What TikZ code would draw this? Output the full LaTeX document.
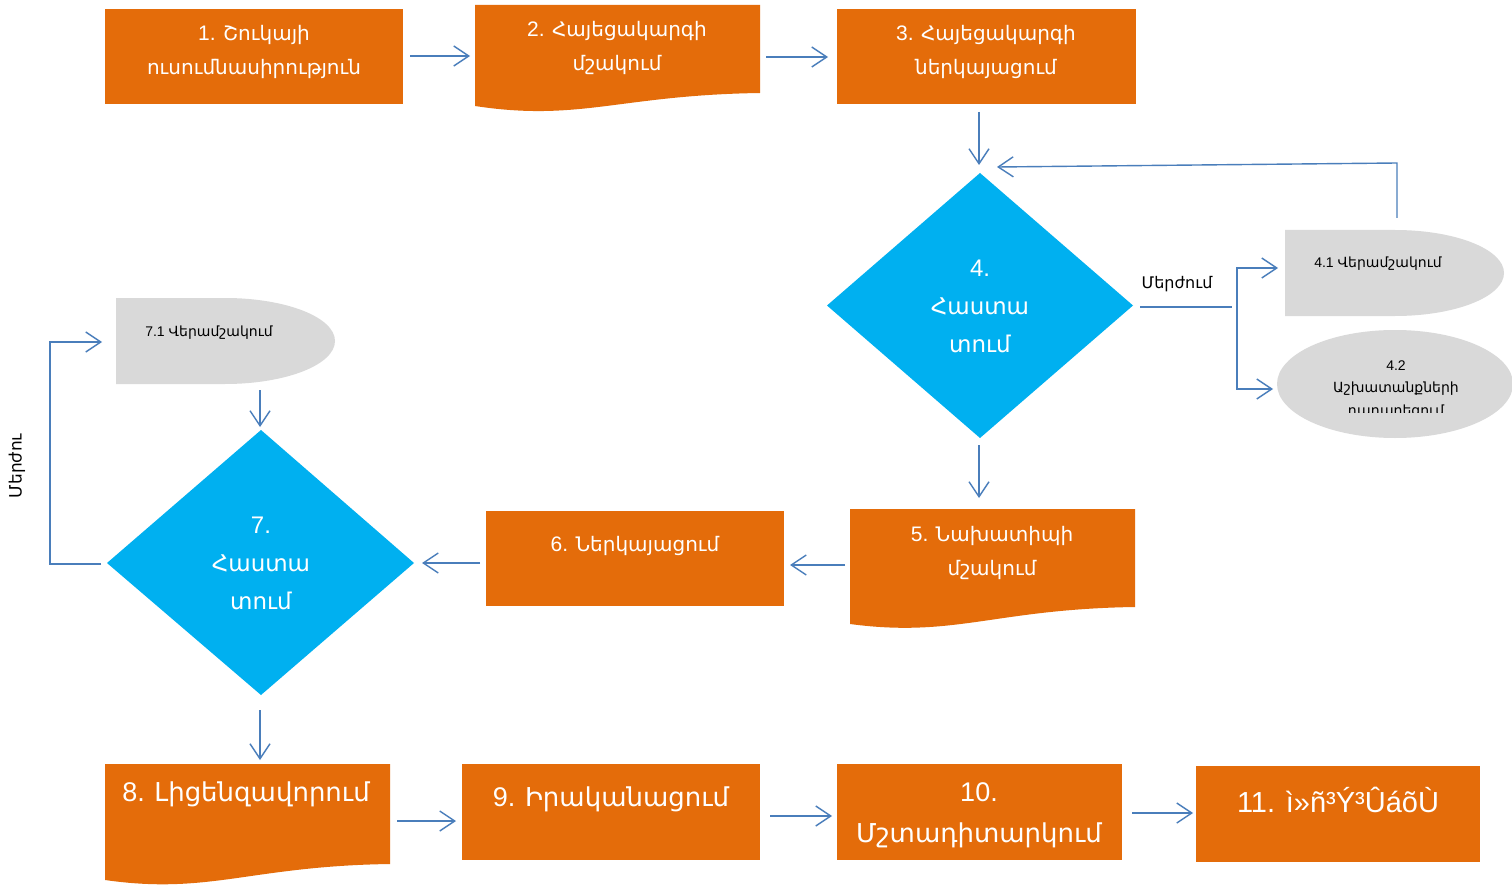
\documentclass[tikz,border=0pt]{standalone}
\usepackage{fontspec}
\setmainfont{Liberation Sans}
\newfontfamily\arm{DejaVu Sans}
\usetikzlibrary{arrows.meta}
\definecolor{orng}{HTML}{E46C0A}
\definecolor{cyn}{HTML}{00B0F0}
\definecolor{gry}{HTML}{D9D9D9}
\definecolor{arrc}{HTML}{4A7EBB}
\newcommand\myfs[2]{\fontsize{#1}{#2}\selectfont}
\begin{document}
\begin{tikzpicture}[x=1pt,y=-1pt,
  obox/.style={fill=orng, draw=none, inner sep=0},
  wt/.style={text=white, align=center, inner sep=0},
  bt/.style={text=black, align=center, inner sep=0},
  arr/.style={draw=arrc, line width=1.4pt, -{Straight Barb[length=15pt,width=20pt,line width=1.4pt]}},
  ln/.style={draw=arrc, line width=1.4pt}]
\useasboundingbox (0,0) rectangle (1512,885);
\fill[white] (0,0) rectangle (1512,885);

% ---------- shapes ----------
\node[obox, minimum width=298, minimum height=95] (n1) at (254,56.5) {};
\fill[orng] (475,5) -- (760,5) -- (760,93) .. controls (620,95) and (580,122) .. (475,106) -- cycle;
\coordinate (n2) at (617,50);
\node[obox, minimum width=299, minimum height=95] (n3) at (986.5,56.5) {};
\fill[cyn] (827,305.5) -- (980,173) -- (1133,305.5) -- (980,438) -- cycle;
\coordinate (n4) at (980,305.5);
\fill[gry] (1285,230) -- (1395,230) arc[start angle=-90, end angle=90, x radius=109, y radius=43] -- (1285,316) -- cycle;
\coordinate (n41) at (1380,273);
\fill[gry] (1395,384) ellipse [x radius=118, y radius=54];
\coordinate (n42) at (1395,384);
\fill[orng] (850,509) -- (1135,509) -- (1135,607) .. controls (995,609) and (955,638) .. (850,624) -- cycle;
\coordinate (n5) at (992,560);
\node[obox, minimum width=298, minimum height=95] (n6) at (635,558.5) {};
\fill[cyn] (107,563) -- (261,430) -- (414,563) -- (261,695) -- cycle;
\coordinate (n7) at (261,563);
\fill[gry] (116,298) -- (225,298) arc[start angle=-90, end angle=90, x radius=110, y radius=43] -- (116,384) -- cycle;
\coordinate (n71) at (215,341);
\fill[orng] (105,764) -- (390,764) -- (390,864) .. controls (250,866) and (210,895) .. (105,880) -- cycle;
\coordinate (n8) at (247,815);
\node[obox, minimum width=298, minimum height=96] (n9) at (611,812) {};
\node[obox, minimum width=285, minimum height=96] (n10) at (979.5,812) {};
\node[obox, minimum width=284, minimum height=96] (n11) at (1338,814) {};

% ---------- texts ----------
\node[wt, font=\myfs{20}{34}] (t1) at (254,52) {{\myfs{21}{34}1.} {\arm Շուկայի}\\{\arm ուսումնասիրություն}};
\node[wt, font=\myfs{20}{34}] (t2) at (617,48) {{\myfs{21}{34}2.} {\arm Հայեցակարգի}\\{\arm մշակում}};
\node[wt, font=\myfs{20}{34}] (t3) at (986,52) {{\myfs{21}{34}3.} {\arm Հայեցակարգի}\\{\arm ներկայացում}};
\node[wt, font=\myfs{23}{38}] (t4) at (980,306) {{\myfs{24}{38}4.}\\{\arm Հաստա}\\{\arm տում}};
\node[bt, font=\myfs{16}{20}] (lr4) at (1177,284) {\arm Մերժում};
\node[bt, font=\myfs{14}{20}] (t41) at (1378,264) {4.1 {\arm Վերամշակում}};
\node[bt, font=\myfs{14}{20}] (t42a) at (1396,366) {4.2};
\node[bt, font=\myfs{14}{20}] (t42b) at (1396,389) {\arm Աշխատանքների};
\begin{scope}
\clip (1270,330) rectangle (1512,412);
\node[bt, font=\myfs{14}{20}] (t42c) at (1396,412) {\arm դադարեցում};
\end{scope}
\node[wt, font=\myfs{20}{34}] (t5) at (992,553) {{\myfs{21}{34}5.} {\arm Նախատիպի}\\{\arm մշակում}};
\node[wt, font=\myfs{20}{34}] (t6) at (635,546) {{\myfs{21}{34}6.} {\arm Ներկայացում}};
\node[wt, font=\myfs{23}{38}] (t7) at (261,563) {{\myfs{24}{38}7.}\\{\arm Հաստա}\\{\arm տում}};
\node[bt, font=\myfs{14}{20}] (t71) at (209,333) {7.1 {\arm Վերամշակում}};
\node[bt, font=\myfs{17}{20}, rotate=90] (lr7) at (17,466) {\arm Մերժու};
\node[wt, font=\myfs{26}{40}] (t8) at (246,794) {{\myfs{27}{40}8.} {\arm Լիցենզավորում}};
\node[wt, font=\myfs{26}{40}] (t9) at (611,799) {{\myfs{27}{40}9.} {\arm Իրականացում}};
\node[wt, font=\myfs{26}{41}] (t10) at (979,815) {{\myfs{27}{41}10.}\\{\arm Մշտադիտարկում}};
\node[wt, font=\myfs{29}{40}] (t11) at (1338,800) {11. ì»ñ³Ý³ÛáõÙ};

% ---------- connector end points ----------
\coordinate (a12s) at (410,56);  \coordinate (a12e) at (470,56);
\coordinate (a23s) at (766,57);  \coordinate (a23e) at (828,57);
\coordinate (a34s) at (979,112); \coordinate (a34e) at (979,165);
\coordinate (a45s) at (979,445); \coordinate (a45e) at (979,498);
\coordinate (a56s) at (845,565); \coordinate (a56e) at (790,565);
\coordinate (a67s) at (480,563); \coordinate (a67e) at (422,563);
\coordinate (a78s) at (260,710); \coordinate (a78e) at (260,760);
\coordinate (a89s) at (397,821); \coordinate (a89e) at (456,821);
\coordinate (a910s) at (770,816); \coordinate (a910e) at (832,816);
\coordinate (a1011s) at (1132,813); \coordinate (a1011e) at (1193,813);
\coordinate (a717s) at (260,390); \coordinate (a717e) at (260,427);
\coordinate (r4s) at (1140,307); \coordinate (r4m) at (1232,307);
\coordinate (r4j) at (1237,307);
\coordinate (r41e) at (1278,268); \coordinate (r42e) at (1273,389);
\coordinate (fbs) at (1397,218); \coordinate (fbc) at (1397,163);
\coordinate (fbe) at (997,167);
\coordinate (r7s) at (101,564); \coordinate (r7a) at (50,564);
\coordinate (r7b) at (50,342); \coordinate (r7e) at (102,342);

% ---------- connectors ----------
\draw[arr] (a12s) -- (a12e);
\draw[arr] (a23s) -- (a23e);
\draw[arr] (a34s) -- (a34e);
\draw[arr] (a45s) -- (a45e);
\draw[arr] (a56s) -- (a56e);
\draw[arr] (a67s) -- (a67e);
\draw[arr] (a78s) -- (a78e);
\draw[arr] (a89s) -- (a89e);
\draw[arr] (a910s) -- (a910e);
\draw[arr] (a1011s) -- (a1011e);
\draw[arr] (a717s) -- (a717e);
\draw[ln] (r4s) -- (r4m);
\draw[arr] (r4j) |- (r41e);
\draw[arr] (r4j) |- (r42e);
\draw[arr] (fbs) -- (fbc) -- (fbe);
\draw[arr] (r7s) -- (r7a) -- (r7b) -- (r7e);
\end{tikzpicture}
\end{document}
